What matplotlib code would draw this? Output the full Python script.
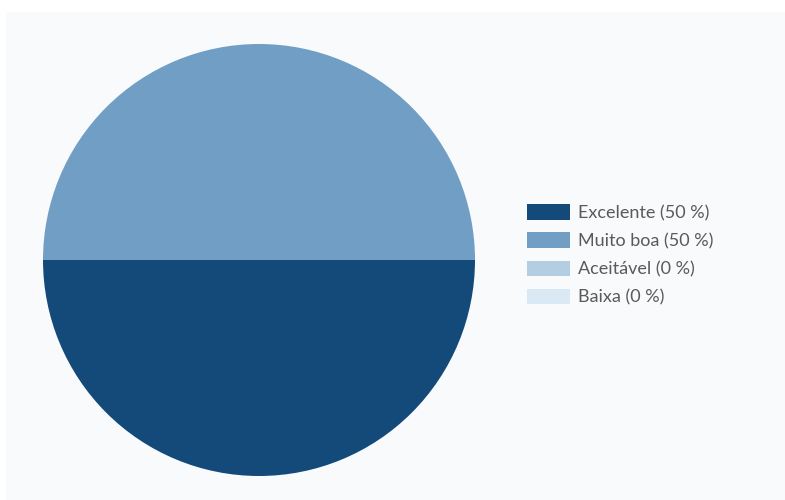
import matplotlib
matplotlib.use("Agg")
import matplotlib.pyplot as plt
from matplotlib.patches import Patch, Rectangle

labels = ["Excelente", "Muito boa", "Aceitável", "Baixa"]
values = [50, 50, 0, 0]
colors = ["#134a7a", "#709ec4", "#b3cde3", "#dbe9f5"]

W, H = 785, 500
fig = plt.figure(figsize=(W / 100, H / 100), dpi=100)
fig.patch.set_facecolor("white")

# light panel behind the chart
fig.patches.append(Rectangle((6 / W, 0), 1 - 6 / W, 1 - 12 / H,
                             transform=fig.transFigure, facecolor="#f8fafc",
                             edgecolor="none", zorder=-5))

cx, cy, r = 259, 260, 216
ax = fig.add_axes([(cx - r) / W, (H - cy - r) / H, 2 * r / W, 2 * r / H])
ax.set_zorder(2)
ax.set_facecolor("none")
ax.pie(values, colors=colors, startangle=180, counterclock=True, radius=1,
       wedgeprops=dict(linewidth=0))
ax.set_xlim(-1, 1)
ax.set_ylim(-1, 1)
ax.set_aspect("equal")
ax.axis("off")

handles = [Patch(facecolor=c, edgecolor="none") for c in colors]
leg_labels = [f"{l} ({v} %)" for l, v in zip(labels, values)]
leg = fig.legend(handles, leg_labels, loc="center left",
                 bbox_to_anchor=(518 / W, 1 - 255 / H), frameon=False,
                 prop={"family": "Lato", "size": 13},
                 handlelength=2.4, handleheight=0.95, handletextpad=0.45,
                 labelspacing=0.62, borderpad=0)
for t in leg.get_texts():
    t.set_color("#5a5a5a")

fig.savefig("out.png", dpi=100)
